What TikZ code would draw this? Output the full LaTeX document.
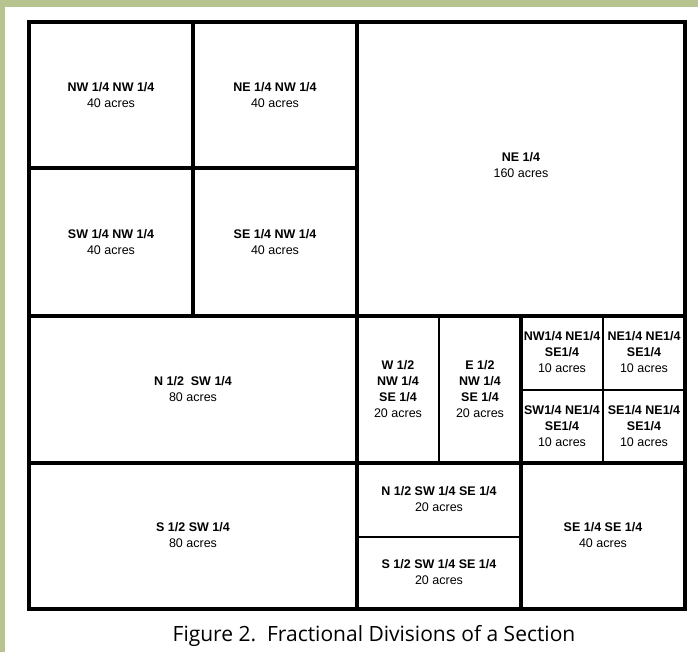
\documentclass[tikz,border=0pt]{standalone}
\usepackage{fontspec}
\setmainfont{Liberation Sans}
\newfontfamily\capfont{Open Sans}
\definecolor{framegreen}{RGB}{183,196,143}
\begin{document}
\begin{tikzpicture}[x=1pt,y=-1pt,
  outer/.style={line width=4.5pt},
  heavy/.style={line width=3.5pt},
  light/.style={line width=2.4pt},
  lbl/.style={align=center,font=\fontsize{12.5}{16}\selectfont}]
\useasboundingbox (0,0) rectangle (698,652);
\fill[framegreen] (0,0) rectangle (698,7);
\fill[framegreen] (0,0) rectangle (5,652);

\draw[heavy] (193,22) -- (193,316);
\draw[heavy] (29,168) -- (357,168);
\draw[heavy] (357,22) -- (357,609);
\draw[heavy] (29,316) -- (685,316);
\draw[heavy] (29,463) -- (685,463);
\draw[heavy] (521,316) -- (521,609);
\draw[light] (439,316) -- (439,463);
\draw[light] (603,316) -- (603,463);
\draw[light] (521,390) -- (685,390);
\draw[light] (357,537) -- (521,537);
\draw[outer] (29,22) rectangle (685,609);

\node[lbl] (NWNW) at (111,95) {\textbf{NW 1/4 NW 1/4}\\40 acres};
\node[lbl] (NENW) at (275,95) {\textbf{NE 1/4 NW 1/4}\\40 acres};
\node[lbl] (SWNW) at (111,242) {\textbf{SW 1/4 NW 1/4}\\40 acres};
\node[lbl] (SENW) at (275,242) {\textbf{SE 1/4 NW 1/4}\\40 acres};
\node[lbl] (NE) at (521,165) {\textbf{NE 1/4}\\160 acres};

\node[lbl] (NSW) at (193,389) {\textbf{N 1/2\ \ SW 1/4}\\80 acres};
\node[lbl] (WNWSE) at (398,389) {\textbf{W 1/2}\\\textbf{NW 1/4}\\\textbf{SE 1/4}\\20 acres};
\node[lbl] (ENWSE) at (480,389) {\textbf{E 1/2}\\\textbf{NW 1/4}\\\textbf{SE 1/4}\\20 acres};
\node[lbl] (NWNESE) at (562,352) {\textbf{NW1/4 NE1/4}\\\textbf{SE1/4}\\10 acres};
\node[lbl] (NENESE) at (644,352) {\textbf{NE1/4 NE1/4}\\\textbf{SE1/4}\\10 acres};
\node[lbl] (SWNESE) at (562,426) {\textbf{SW1/4 NE1/4}\\\textbf{SE1/4}\\10 acres};
\node[lbl] (SENESE) at (644,426) {\textbf{SE1/4 NE1/4}\\\textbf{SE1/4}\\10 acres};

\node[lbl] (SSW) at (193,535) {\textbf{S 1/2 SW 1/4}\\80 acres};
\node[lbl] (NSWSE) at (439,499) {\textbf{N 1/2 SW 1/4 SE 1/4}\\20 acres};
\node[lbl] (SSWSE) at (439,572) {\textbf{S 1/2 SW 1/4 SE 1/4}\\20 acres};
\node[lbl] (SESE) at (603,535) {\textbf{SE 1/4 SE 1/4}\\40 acres};

\node[anchor=base,font=\capfont\fontsize{21}{25}\selectfont] (caption) at (374,641) {Figure 2.\ \ Fractional Divisions of a Section};
\end{tikzpicture}
\end{document}
